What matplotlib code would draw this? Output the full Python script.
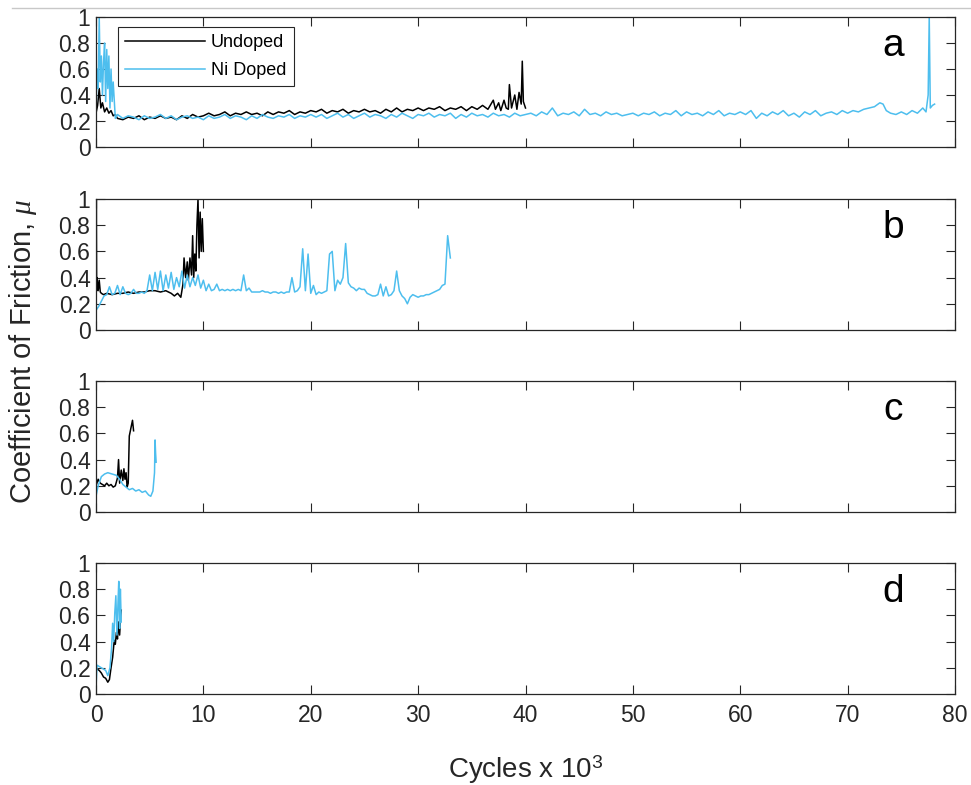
import numpy as np
import matplotlib
matplotlib.use("Agg")
import matplotlib.pyplot as plt
from matplotlib.lines import Line2D
from matplotlib.ticker import FormatStrFormatter

plt.rcParams['font.family'] = ['Liberation Sans', 'DejaVu Sans']
plt.rcParams['mathtext.fontset'] = 'custom'
plt.rcParams['mathtext.it'] = 'Liberation Serif:italic'
plt.rcParams['mathtext.rm'] = 'Liberation Sans'

BLACK = '#000000'
BLUE = '#4DBEEE'
AXC = '#262626'

# ---- panel a ----
a_und_x = np.concatenate([
    [0, 0.15, 0.3, 0.45, 0.6, 0.8, 1.0, 1.2, 1.4, 1.6, 1.8, 2.0],
    np.arange(2.5, 36.51, 0.5),
    [37.0, 37.2, 37.5, 37.7, 38.0, 38.2, 38.4, 38.5, 38.7, 39.0, 39.2, 39.4, 39.6, 39.7, 39.8, 40.0],
])
a_und_y = [
    0.26, 0.32, 0.45, 0.30, 0.34, 0.27, 0.30, 0.26, 0.28, 0.24, 0.25, 0.22,
    0.21, 0.23, 0.22, 0.24, 0.21, 0.23, 0.22, 0.24, 0.22, 0.23, 0.21, 0.24, 0.22, 0.25, 0.23, 0.24,
    0.26, 0.24, 0.25, 0.27, 0.24, 0.26, 0.25, 0.27, 0.25, 0.26, 0.24, 0.27, 0.25, 0.27, 0.26, 0.28, 0.25, 0.27, 0.26, 0.28,
    0.27, 0.29, 0.26, 0.28, 0.27, 0.29, 0.26, 0.28, 0.27, 0.29, 0.27, 0.28, 0.26, 0.29, 0.27, 0.30, 0.27, 0.29, 0.28, 0.30,
    0.28, 0.30, 0.29, 0.31, 0.28, 0.30, 0.29, 0.31, 0.28, 0.31, 0.29, 0.32, 0.29,
    0.36, 0.29, 0.34, 0.28, 0.36, 0.30, 0.29, 0.48, 0.30, 0.40, 0.29, 0.42, 0.33, 0.66, 0.35, 0.30,
]
a_ni_x = np.concatenate([
    [0, 0.1, 0.2, 0.3, 0.4, 0.5, 0.6, 0.7, 0.8, 0.9, 1.0, 1.1, 1.2, 1.3, 1.4, 1.5, 1.6, 1.8, 2.0],
    np.arange(2.5, 72.51, 0.5),
    [73.0, 73.3, 73.6, 74.0, 74.5, 75.0, 75.5, 76.0, 76.5, 77.0, 77.3, 77.5, 77.6, 77.7, 77.9, 78.1],
])
a_ni_y = [
    0.25, 0.60, 0.45, 1.00, 0.50, 0.70, 0.40, 0.65, 0.80, 0.35, 0.75, 0.45, 0.70, 0.30, 0.60, 0.35, 0.50, 0.22, 0.25,
    0.22, 0.24, 0.23, 0.21, 0.24, 0.22, 0.23, 0.25, 0.22, 0.24, 0.21, 0.23, 0.24, 0.22, 0.23, 0.21,
    0.24, 0.22, 0.23, 0.25, 0.22, 0.24, 0.23, 0.21, 0.24, 0.22, 0.25, 0.23, 0.22, 0.24, 0.23, 0.25, 0.22, 0.24, 0.23, 0.25,
    0.23, 0.25, 0.22, 0.24, 0.26, 0.23, 0.25, 0.22, 0.24, 0.26, 0.23, 0.25, 0.24, 0.22, 0.25, 0.23, 0.26, 0.24, 0.22, 0.25,
    0.24, 0.26, 0.23, 0.25, 0.24, 0.26, 0.22, 0.25, 0.23, 0.26, 0.24, 0.25, 0.23, 0.26, 0.24, 0.25, 0.23, 0.26, 0.24, 0.25,
    0.26, 0.24, 0.27, 0.25, 0.30, 0.24, 0.26, 0.25, 0.27, 0.24, 0.29, 0.25, 0.26, 0.24, 0.27, 0.25, 0.26, 0.24, 0.25, 0.26,
    0.24, 0.26, 0.25, 0.27, 0.24, 0.26, 0.25, 0.28, 0.24, 0.27, 0.25, 0.26, 0.24, 0.27, 0.25, 0.28, 0.24, 0.26, 0.25, 0.27,
    0.25, 0.28, 0.22, 0.26, 0.24, 0.27, 0.25, 0.28, 0.24, 0.26, 0.23, 0.27, 0.25, 0.28, 0.24, 0.26, 0.27, 0.25, 0.28, 0.26,
    0.28, 0.27, 0.29, 0.30, 0.31,
    0.34, 0.33, 0.28, 0.26, 0.25, 0.27, 0.25, 0.28, 0.26, 0.30, 0.27, 0.40, 1.00, 0.30, 0.32, 0.33,
]

# ---- panel b ----
b_und_x = [0, 0.03, 0.06, 0.1, 0.2, 0.3, 0.4, 0.5, 0.7, 1.0, 1.5, 2, 2.5, 3, 3.5, 4, 4.5, 5, 5.5, 6,
           6.5, 7, 7.3, 7.6, 7.9, 8.1, 8.2, 8.35, 8.5, 8.6, 8.75, 8.9, 9.0, 9.1, 9.2, 9.3, 9.4, 9.5,
           9.6, 9.7, 9.8, 9.9, 10.0]
b_und_y = [0.30, 1.00, 0.30, 0.40, 0.30, 0.38, 0.29, 0.28, 0.27, 0.28, 0.27, 0.28, 0.28, 0.29, 0.28,
           0.29, 0.29, 0.30, 0.30, 0.29, 0.30, 0.28, 0.26, 0.28, 0.25, 0.35, 0.55, 0.40, 0.52, 0.38,
           0.55, 0.42, 0.72, 0.40, 0.58, 0.45, 0.80, 1.00, 0.55, 0.90, 0.60, 0.85, 0.60]
b_ni_x = np.arange(0, 33.01, 0.25)
b_ni_y = [
    0.15, 0.18, 0.22, 0.26, 0.27, 0.33, 0.27, 0.28, 0.34, 0.27, 0.33, 0.28, 0.27, 0.28, 0.31, 0.28,
    0.28, 0.29, 0.28, 0.30, 0.42, 0.30, 0.44, 0.31, 0.45, 0.30, 0.42, 0.32, 0.44, 0.31, 0.40, 0.33,
    0.45, 0.32, 0.42, 0.33, 0.40, 0.34, 0.42, 0.32, 0.38, 0.30, 0.35, 0.30, 0.31, 0.35, 0.30, 0.31,
    0.30, 0.31, 0.30, 0.31, 0.30, 0.31, 0.30, 0.42, 0.30, 0.32, 0.29, 0.29, 0.29, 0.29, 0.30, 0.29,
    0.29, 0.28, 0.29, 0.29, 0.28, 0.29, 0.28, 0.29, 0.29, 0.40, 0.29, 0.30, 0.33, 0.62, 0.30, 0.58,
    0.28, 0.34, 0.27, 0.29, 0.28, 0.29, 0.30, 0.58, 0.60, 0.30, 0.38, 0.35, 0.40, 0.66, 0.36, 0.33,
    0.32, 0.30, 0.32, 0.31, 0.31, 0.28, 0.27, 0.26, 0.26, 0.27, 0.35, 0.26, 0.33, 0.26, 0.27, 0.30,
    0.45, 0.30, 0.26, 0.24, 0.20, 0.25, 0.27, 0.26, 0.25, 0.26, 0.26, 0.27, 0.27, 0.28, 0.29, 0.30,
    0.31, 0.34, 0.35, 0.72, 0.55,
]

# ---- panel c ----
c_und_x = [0, 0.2, 0.4, 0.6, 0.8, 1.0, 1.2, 1.4, 1.6, 1.8, 2.0, 2.1, 2.2, 2.35, 2.5, 2.6, 2.7,
           2.8, 2.9, 3.0, 3.1, 3.2, 3.3, 3.4, 3.5]
c_und_y = [0.20, 0.25, 0.22, 0.21, 0.20, 0.22, 0.20, 0.21, 0.19, 0.20, 0.26, 0.40, 0.22, 0.32, 0.24,
           0.33, 0.25, 0.30, 0.19, 0.22, 0.58, 0.62, 0.66, 0.70, 0.62]
c_ni_x = [0, 0.2, 0.5, 0.8, 1.1, 1.5, 1.9, 2.2, 2.5, 2.8, 3.1, 3.4, 3.7, 4.0, 4.3, 4.6, 4.9, 5.1,
          5.3, 5.45, 5.5, 5.55, 5.6]
c_ni_y = [0.12, 0.20, 0.27, 0.29, 0.30, 0.29, 0.28, 0.25, 0.21, 0.19, 0.17, 0.18, 0.16, 0.17, 0.15,
          0.16, 0.13, 0.12, 0.16, 0.30, 0.55, 0.45, 0.38]

# ---- panel d ----
d_und_x = [0, 0.1, 0.3, 0.5, 0.7, 0.9, 1.1, 1.25, 1.4, 1.55, 1.7, 1.8, 1.9, 2.0, 2.1, 2.2, 2.3, 2.35]
d_und_y = [0.20, 0.19, 0.18, 0.16, 0.13, 0.12, 0.09, 0.11, 0.20, 0.28, 0.41, 0.38, 0.47, 0.42, 0.55,
           0.45, 0.60, 0.64]
d_ni_x = [0, 0.1, 0.3, 0.5, 0.7, 0.9, 1.1, 1.3, 1.45, 1.55, 1.65, 1.75, 1.85, 1.95, 2.05, 2.12,
          2.2, 2.27, 2.35]
d_ni_y = [0.05, 0.22, 0.21, 0.20, 0.19, 0.18, 0.14, 0.20, 0.35, 0.54, 0.40, 0.62, 0.75, 0.45, 0.70,
          0.86, 0.50, 0.80, 0.55]

panels = [
    ('a', a_und_x, a_und_y, a_ni_x, a_ni_y),
    ('b', b_und_x, b_und_y, b_ni_x, b_ni_y),
    ('c', c_und_x, c_und_y, c_ni_x, c_ni_y),
    ('d', d_und_x, d_und_y, d_ni_x, d_ni_y),
]
xticks = [0, 10, 20, 30, 40, 50, 60, 70, 80]
yticks = [0, 0.2, 0.4, 0.6, 0.8, 1]

W, H = 971, 785
fig = plt.figure(figsize=(W / 100, H / 100), dpi=100)
tops = [17, 199, 381, 563]
bottoms = [147, 330, 512, 694]
left, right = 96, 955

axes = []
for i, (letter, ux, uy, nx, ny) in enumerate(panels):
    ax = fig.add_axes([left / W, 1 - bottoms[i] / H, (right - left) / W, (bottoms[i] - tops[i]) / H])
    ax.plot(ux, uy, color=BLACK, lw=1.1, label='Undoped')
    ax.plot(nx, ny, color=BLUE, lw=1.1, label='Ni Doped')
    ax.set_xlim(0, 80)
    ax.set_ylim(0, 1)
    ax.set_xticks(xticks)
    ax.set_yticks(yticks)
    ax.yaxis.set_major_formatter(FormatStrFormatter('%g'))
    ax.tick_params(direction='in', top=True, right=True, length=6.5, width=0.8,
                   colors=AXC, labelsize=16.5, pad=4)
    ax.tick_params(axis='x', pad=7)
    if i < 3:
        ax.tick_params(labelbottom=False)
    for sp in ax.spines.values():
        sp.set_color(AXC)
        sp.set_linewidth(0.9)
    ax.text(0.928, 0.78, letter, transform=ax.transAxes, ha='center', va='center',
            fontsize=28, color='black')
    axes.append(ax)

leg = axes[0].legend(loc='upper left', bbox_to_anchor=(0.0256, 0.923), borderaxespad=0,
                     fontsize=13, handlelength=4.4, handletextpad=0.35, labelspacing=0.6,
                     borderpad=0.4, fancybox=False, framealpha=1)
leg.get_frame().set_edgecolor(AXC)
leg.get_frame().set_linewidth(0.8)

fig.text(0.024, 0.553, r'Coefficient of Friction, $\mu$', rotation=90, ha='center', va='center',
         fontsize=21, color=AXC)
fig.text((left + right) / 2 / W, 1 - 770 / H, r'Cycles x 10$^3$', ha='center', va='center',
         fontsize=20, color=AXC)

fig.add_artist(Line2D([12 / W, 1], [1 - 8 / H, 1 - 8 / H], transform=fig.transFigure,
                      color='#c8c8c8', lw=1))

fig.savefig('out.png', dpi=100)
